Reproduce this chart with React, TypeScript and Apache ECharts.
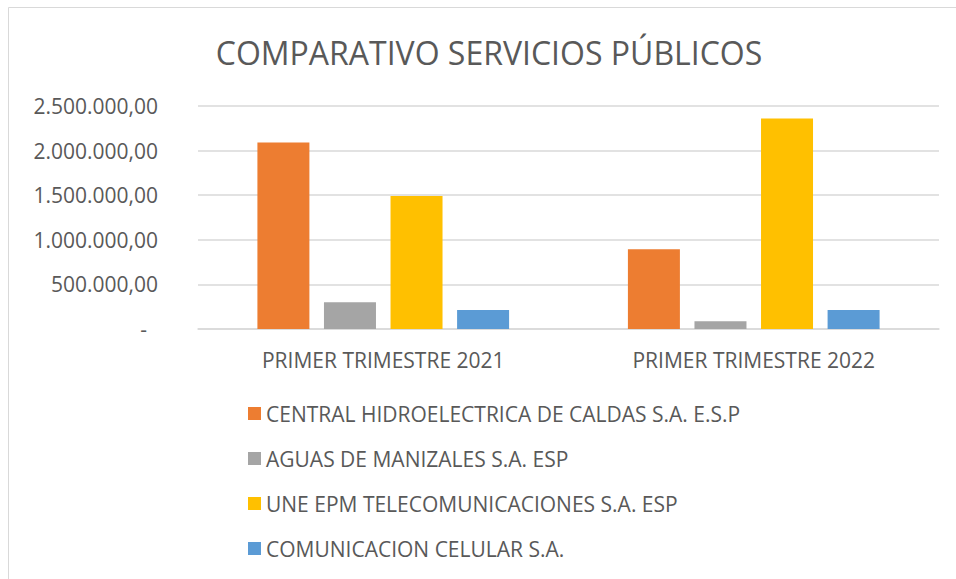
import React, { useEffect, useRef } from "react";
import * as echarts from "echarts";

const categories = ["PRIMER TRIMESTRE 2021", "PRIMER TRIMESTRE 2022"];
const seriesNames = [
  "CENTRAL HIDROELECTRICA DE CALDAS S.A. E.S.P",
  "AGUAS DE MANIZALES S.A. ESP",
  "UNE EPM TELECOMUNICACIONES S.A. ESP",
  "COMUNICACION CELULAR S.A.",
];
const hidroelectrica = [2090000, 893000];
const aguas = [299000, 86000];
const une = [1491000, 2359000];
const comcel = [213000, 213000];
const colors = ["#ED7D31", "#A5A5A5", "#FFC000", "#5B9BD5"];
const yTicks = { min: 0, max: 2500000, interval: 500000 };
const titleText = "COMPARATIVO SERVICIOS PÚBLICOS";

const FONT = "Open Sans";
const TEXT = "#595959";

function fmt(v: number): string {
  if (v === 0) return "{z|-}";
  const s = Math.round(v).toString().replace(/\B(?=(\d{3})+(?!\d))/g, ".");
  return s + ",00";
}

export default function App() {
  const ref = useRef<HTMLDivElement>(null);
  useEffect(() => {
    if (!ref.current) return;
    const chart = echarts.init(ref.current, undefined, { renderer: "svg" });
    const values = [hidroelectrica, aguas, une, comcel];
    chart.setOption({
      animation: false,
      backgroundColor: "#ffffff",
      graphic: [
        {
          type: "rect",
          shape: { x: 8.5, y: 7.5, width: 1000, height: 700 },
          style: { fill: "none", stroke: "#D9D9D9", lineWidth: 1 },
          silent: true,
        },
        {
          type: "text",
          x: 489,
          y: 52,
          silent: true,
          style: {
            text: titleText,
            fontFamily: FONT,
            fontSize: 32,
            fill: TEXT,
            textAlign: "center",
            textVerticalAlign: "middle",
          },
        },
      ],
      legend: {
        orient: "vertical",
        left: 248,
        top: 403,
        padding: 0,
        itemWidth: 13,
        itemHeight: 13,
        itemGap: 24,
        icon: "rect",
        textStyle: { fontFamily: FONT, fontSize: 21, color: TEXT, lineHeight: 21 },
        data: seriesNames,
      },
      grid: { left: 198, right: 17, top: 106, bottom: 250, containLabel: false },
      xAxis: {
        type: "category",
        data: categories,
        axisLine: { show: true, lineStyle: { color: "#D9D9D9", width: 1.5 } },
        axisTick: { show: false },
        axisLabel: { fontFamily: FONT, fontSize: 21, color: TEXT, margin: 20 },
      },
      yAxis: {
        type: "value",
        min: yTicks.min,
        max: yTicks.max,
        interval: yTicks.interval,
        axisLine: { show: false },
        axisTick: { show: false },
        splitLine: { lineStyle: { color: "#D9D9D9", width: 1.5 } },
        axisLabel: {
          fontFamily: FONT,
          fontSize: 21,
          color: TEXT,
          margin: 40,
          formatter: fmt,
          rich: { z: { fontFamily: FONT, fontSize: 21, color: TEXT, padding: [0, 11, 0, 0] } },
        },
      },
      series: seriesNames.map((name, i) => ({
        name,
        type: "bar",
        data: values[i],
        barWidth: 52,
        barGap: "28%",
        itemStyle: { color: colors[i] },
      })),
    });
    return () => chart.dispose();
  }, []);
  return (
    <div
      ref={ref}
      style={{ position: "absolute", left: 0, top: 0, width: 956, height: 579 }}
    />
  );
}
